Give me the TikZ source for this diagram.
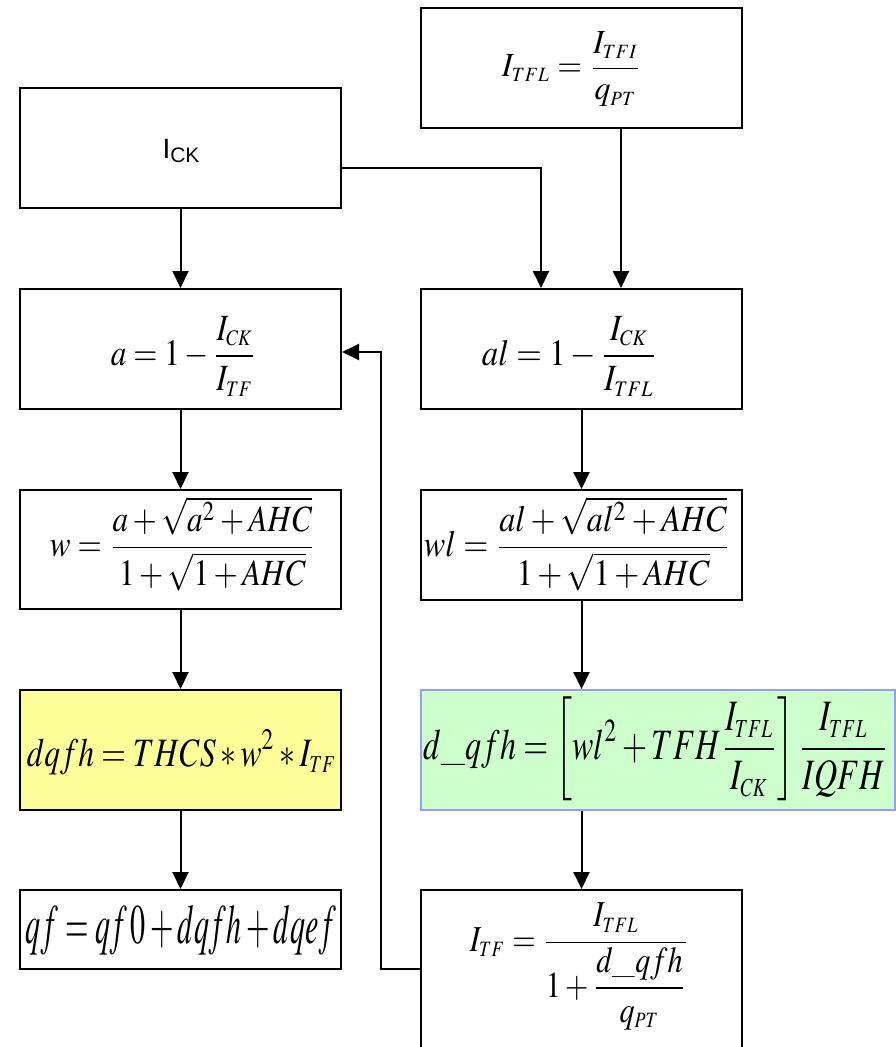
\documentclass[tikz,border=0pt]{standalone}
\usepackage{mathptmx}
\usepackage{fontspec}
\newfontfamily\arialf{Liberation Sans}
\usetikzlibrary{arrows.meta}
\newcommand\eqbox[3]{\resizebox*{#1pt}{#2pt}{$\displaystyle #3$}}
\newcommand\sbs[1]{_{\scriptscriptstyle #1}}
\definecolor{yel}{RGB}{255,255,153}
\definecolor{grn}{RGB}{204,255,204}
\definecolor{blu}{RGB}{153,153,255}
\begin{document}
\begin{tikzpicture}[x=1pt,y=-1pt,
  box/.style={draw, line width=2pt, inner sep=0pt, minimum width=321pt, minimum height=120pt},
  txt/.style={inner sep=0pt},
  arr/.style={line width=2pt, -{Triangle[length=17pt,width=16pt]}}]
\useasboundingbox (0,0) rectangle (896,1047);
% boxes
\node[box] (itfl) at (581.5,68) {};
\node[box] (ick) at (180.5,148) {};
\node[box] (a) at (180.5,349) {};
\node[box] (al) at (581.5,349) {};
\node[box, minimum height=119pt] (w) at (180.5,549.5) {};
\node[box, minimum height=110pt] (wl) at (581.5,545) {};
\node[box, fill=yel] (dq) at (180.5,750) {};
\node[box, fill=grn, draw=blu, minimum width=474pt] (dq2) at (658,750) {};
\node[box, minimum height=79pt] (qf) at (180.5,929.5) {};
\node[box, minimum height=170pt] (itf) at (581.5,975) {};
% texts
\node[txt] (titfl) at (572,69.5) {\eqbox{140}{75}{I\sbs{TFL}=\frac{I\sbs{TFI}}{q\sbs{PT}}}};
\node[txt] (tick) at (181,151) {\arialf\fontsize{28}{28}\selectfont I\raisebox{-4pt}{\fontsize{21}{21}\selectfont CK}};
\node[txt] (ta) at (184,356) {\eqbox{146}{80}{a=1-\frac{I\sbs{CK}}{I\sbs{TF}}}};
\node[txt] (tal) at (570,356) {\eqbox{176}{80}{al=1-\frac{I\sbs{CK}}{I\sbs{TFL}}}};
\node[txt] (tw) at (183,544) {\eqbox{266}{94}{w=\frac{a+\sqrt{a^2+AHC}}{1+\sqrt{1+AHC}}}};
\node[txt] (twl) at (577.5,544) {\eqbox{307}{94}{wl=\frac{al+\sqrt{al^2+AHC}}{1+\sqrt{1+AHC}}}};
\node[txt] (tdq) at (182,752) {\eqbox{310}{45}{dqfh=THCS*w^2*I\sbs{TF}}};
\node[txt] (tdq2) at (656.5,749) {\eqbox{465}{104}{d\_qfh=\left[wl^2+TFH\frac{I\sbs{TFL}}{I\sbs{CK}}\right]\frac{I\sbs{TFL}}{IQFH}}};
\node[txt] (tqf) at (181,930) {\eqbox{310}{50}{qf=qf\,0+dqfh+dqef}};
\node[txt] (titf) at (580,966.5) {\eqbox{220}{127}{I\sbs{TF}=\frac{I\sbs{TFL}}{1+{\displaystyle\frac{d\_qfh}{q\sbs{PT}}}}}};
% connectors
\coordinate (c1) at (541,168);
\coordinate (c2) at (621,0);
\coordinate (c4) at (381,969);
\coordinate (c5) at (381,352);
\draw[arr] (ick.east |- c1) -- (c1) -- (c1 |- al.north);
\draw[arr] (itfl.south -| c2) -- (c2 |- al.north);
\draw[arr] (ick.south) -- (a.north);
\draw[arr] (al.south) -- (wl.north);
\draw[arr] (wl.south) -- (wl.south |- dq2.north);
\draw[arr] (dq2.south -| wl.south) -- (itf.north);
\draw[arr] (itf.west |- c4) -- (c4) -- (c5) -- (a.east |- c5);
\draw[arr] (a.south) -- (w.north);
\draw[arr] (w.south) -- (dq.north);
\draw[arr] (dq.south) -- (qf.north);
\end{tikzpicture}
\end{document}
